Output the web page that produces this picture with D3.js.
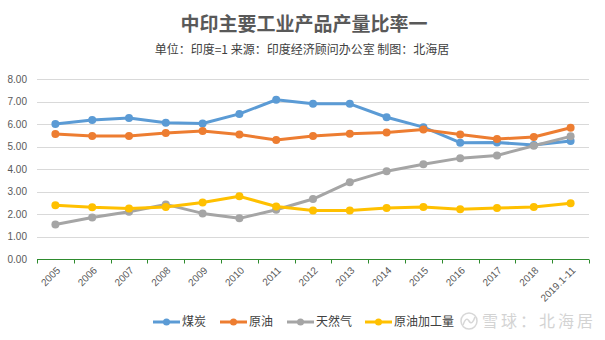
<!DOCTYPE html>
<html>
<head>
<meta charset="utf-8">
<script src="https://cdn.jsdelivr.net/npm/d3@7"></script>
<style>
  html, body { margin: 0; padding: 0; background: #fff; }
  svg { display: block; }
</style>
</head>
<body>
<svg id="chart" width="605" height="340"></svg>
<script>
// Categories (years) and series: ratio of China's output to India's (India = 1)
const years = ["2005","2006","2007","2008","2009","2010","2011","2012","2013","2014","2015","2016","2017","2018","2019.1-11"];
const coal      = [6.01, 6.19, 6.28, 6.07, 6.03, 6.46, 7.09, 6.91, 6.91, 6.31, 5.87, 5.18, 5.19, 5.07, 5.25];
const crudeOil  = [5.57, 5.48, 5.48, 5.61, 5.70, 5.54, 5.30, 5.48, 5.58, 5.63, 5.76, 5.54, 5.34, 5.43, 5.84];
const naturalGas= [1.54, 1.85, 2.10, 2.43, 2.03, 1.81, 2.19, 2.67, 3.42, 3.91, 4.22, 4.49, 4.61, 5.04, 5.46];
const refining  = [2.39, 2.30, 2.25, 2.31, 2.52, 2.79, 2.34, 2.16, 2.16, 2.27, 2.31, 2.21, 2.27, 2.31, 2.48];
const seriesNames = ["煤炭", "原油", "天然气", "原油加工量"];
const yTicks = [0, 1, 2, 3, 4, 5, 6, 7, 8];

const seriesData = [coal, crudeOil, naturalGas, refining];
const colors = ["#5B9BD5", "#ED7D31", "#A5A5A5", "#FFC000"];

const svg = d3.select("#chart");
const font = "'Noto Sans CJK SC', 'Noto Sans', sans-serif";

const x = d3.scaleBand().domain(years).range([37, 589]);
const y = d3.scaleLinear().domain([0, 8]).range([259, 79.3]);

// Title and subtitle
svg.append("text")
  .attr("x", 304).attr("y", 31)
  .attr("text-anchor", "middle")
  .attr("font-family", font).attr("font-size", 19).attr("font-weight", "bold")
  .attr("fill", "#595959")
  .text("中印主要工业产品产量比率一");
svg.append("text")
  .attr("x", 302).attr("y", 54)
  .attr("text-anchor", "middle")
  .attr("font-family", font).attr("font-size", 12)
  .attr("fill", "#404040")
  .text("单位：印度=1 来源：印度经济顾问办公室 制图：北海居");

// Horizontal gridlines
svg.append("g")
  .selectAll("line")
  .data(yTicks.filter(d => d > 0))
  .join("line")
  .attr("x1", 37).attr("x2", 589)
  .attr("y1", d => Math.round(y(d)) + 0.5).attr("y2", d => Math.round(y(d)) + 0.5)
  .attr("stroke", "#d9d9d9").attr("stroke-width", 1);

// Y axis labels
const yAxis = d3.axisLeft(y).tickValues(yTicks).tickFormat(d3.format(".2f")).tickSize(0).tickPadding(0);
const gy = svg.append("g").attr("transform", "translate(27,0)").call(yAxis);
gy.select(".domain").remove();
gy.selectAll("text")
  .attr("font-family", "'Liberation Sans', Arial, sans-serif")
  .attr("font-size", 10).attr("fill", "#595959");

// X axis (green baseline with tick marks between categories)
const gx = svg.append("g").attr("transform", "translate(0,259.5)");
gx.append("line")
  .attr("x1", 37).attr("x2", 589)
  .attr("stroke", "#2E8B2E").attr("stroke-width", 1);
const bounds = years.map(d => x(d)).concat([x.range()[1]]);
gx.selectAll("line.tick")
  .data(bounds)
  .join("line")
  .attr("class", "tick")
  .attr("x1", d => Math.round(d) + 0.5).attr("x2", d => Math.round(d) + 0.5)
  .attr("y1", 0).attr("y2", 4)
  .attr("stroke", "#2E8B2E").attr("stroke-width", 1);
gx.selectAll("text")
  .data(years)
  .join("text")
  .attr("transform", d => `translate(${x(d) + x.bandwidth() / 2 + 3},${9}) rotate(-45)`)
  .attr("text-anchor", "end")
  .attr("dy", "0.35em")
  .attr("font-family", "'Liberation Sans', Arial, sans-serif")
  .attr("font-size", 10).attr("fill", "#595959")
  .text(d => d);

// Series lines and markers
const line = d3.line()
  .x((d, i) => x(years[i]) + x.bandwidth() / 2)
  .y(d => y(d));

seriesData.forEach((vals, si) => {
  const g = svg.append("g");
  g.append("path")
    .datum(vals)
    .attr("d", line)
    .attr("fill", "none")
    .attr("stroke", colors[si])
    .attr("stroke-width", 3)
    .attr("stroke-linejoin", "round")
    .attr("stroke-linecap", "round");
  g.selectAll("circle")
    .data(vals)
    .join("circle")
    .attr("cx", (d, i) => x(years[i]) + x.bandwidth() / 2)
    .attr("cy", d => y(d))
    .attr("r", 4)
    .attr("fill", colors[si]);
});

// Legend
const legendX = [153, 220, 287, 365];
const legend = svg.append("g");
seriesNames.forEach((name, i) => {
  const lg = legend.append("g").attr("transform", `translate(${legendX[i]},322)`);
  lg.append("line").attr("x1", 0).attr("x2", 27).attr("y1", 0).attr("y2", 0)
    .attr("stroke", colors[i]).attr("stroke-width", 3);
  lg.append("circle").attr("cx", 13.5).attr("cy", 0).attr("r", 3.5).attr("fill", colors[i]);
  lg.append("text").attr("x", 29).attr("y", 0).attr("dy", "0.35em")
    .attr("font-family", font).attr("font-size", 12).attr("fill", "#404040")
    .text(name);
});

// Watermark
const wm = svg.append("g").attr("opacity", 0.5);
wm.append("circle").attr("cx", 469).attr("cy", 321).attr("r", 8)
  .attr("fill", "none").attr("stroke", "#b0b0b0").attr("stroke-width", 1.5);
wm.append("path")
  .attr("d", "M463,325 Q466,316 469,321 Q472,326 475,317")
  .attr("fill", "none").attr("stroke", "#b0b0b0").attr("stroke-width", 1.5);
wm.append("text").attr("x", 482).attr("y", 321).attr("dy", "0.36em")
  .attr("font-family", font).attr("font-size", 16).attr("letter-spacing", 3)
  .attr("fill", "#a8a8a8")
  .text("雪球：北海居");
</script>
</body>
</html>
